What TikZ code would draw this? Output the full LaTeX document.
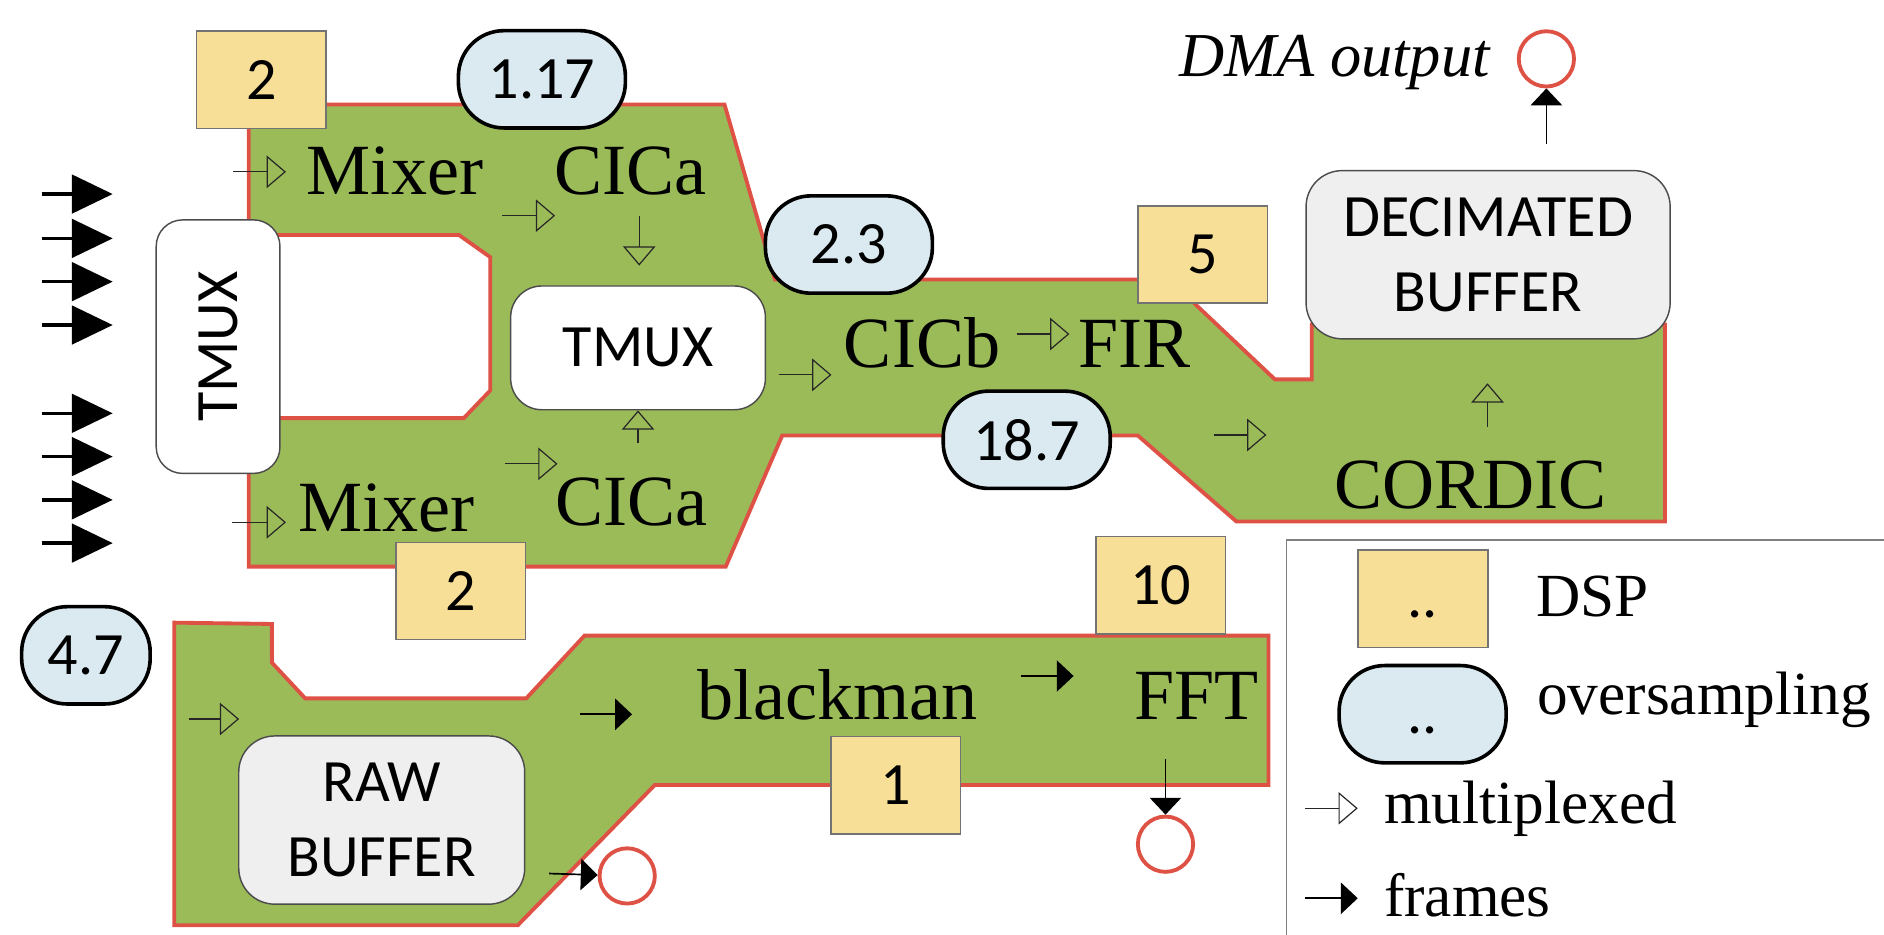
\documentclass[tikz,border=0pt]{standalone}
\usepackage{fontspec}
\setmainfont{Liberation Serif}
\newfontfamily\calib{Carlito}
\usetikzlibrary{arrows.meta}
\definecolor{zonegreen}{RGB}{155,187,89}
\definecolor{zonered}{RGB}{222,82,70}
\definecolor{dspyellow}{RGB}{248,223,152}
\definecolor{ovblue}{RGB}{218,234,240}
\definecolor{boxgray}{RGB}{239,239,239}
\newcommand{\bigserif}{\fontsize{30pt}{36pt}\selectfont}
\newcommand{\legserif}{\fontsize{25.5pt}{30pt}\selectfont}
\newcommand{\boxfont}{\calib\fontsize{25pt}{31pt}\selectfont}
\begin{document}
\begin{tikzpicture}[x=0.5pt,y=-0.5pt,
  zone/.style={fill=zonegreen, draw=zonered, line width=1.6pt, line join=miter},
  dsp/.style={draw=black!55, fill=dspyellow, line width=0.6pt, minimum width=54pt, minimum height=40.5pt, inner sep=0pt, font=\boxfont},
  ovs/.style={draw=black, fill=ovblue, line width=1.5pt, rounded corners=19pt, minimum width=69.5pt, minimum height=40.5pt, inner sep=0pt, font=\boxfont},
  wbox/.style={draw=black!70, fill=white, line width=0.6pt, rounded corners=13pt, inner sep=0pt, font=\boxfont},
  gbox/.style={wbox, fill=boxgray},
  lbl/.style={font=\bigserif, anchor=base west, inner sep=0pt},
  leg/.style={font=\legserif, anchor=base west, inner sep=0pt},
  mux/.style={draw=black!85, line width=0.5pt, -{Triangle[open, length=8pt, width=13.5pt]}},
  frm/.style={draw=black, line width=0.7pt, -{Triangle[length=7pt, width=13pt]}},
  bigarrow/.style={draw=black, line width=1.5pt, -{Triangle[length=17pt, width=16pt]}},
  outc/.style={circle, draw=zonered, line width=1.6pt, minimum size=23pt, inner sep=0pt}
]
\useasboundingbox (0,0) rectangle (1568,778);

% green zones
\draw[zone] (207,87) -- (603,87) -- (645,232.6) -- (973,232.6) -- (1061,315.7)
  -- (1091.7,315.7) -- (1091.7,270) -- (1385.7,270) -- (1385.7,434) -- (1029,434)
  -- (947,362.5) -- (651,362.5) -- (604,471.6) -- (207,471.6) -- cycle;
\draw[zone, fill=white] (220,195.6) -- (382,195.6) -- (408,214) -- (408,325) -- (386,348) -- (220,348);
\draw[zone] (145,518.2) -- (226.3,519.3) -- (226.3,551.5) -- (254,581.2) -- (438,581.2)
  -- (486.5,529) -- (1055.7,529) -- (1055.7,653.3) -- (545,653.3) -- (431,770) -- (145,770) -- cycle;

% legend frame
\draw[black!50, line width=0.8pt] (1070.7,800) -- (1070.7,449.4) -- (1600,449.4);

% DSP boxes
\node[dsp] (dspa) at (217.5,66.3) {2};
\node[dsp] (dspb) at (1001,211.8) {5};
\node[dsp] (dspc) at (383.5,491.8) {2};
\node[dsp] (dspd) at (966,487) {10};
\node[dsp] (dspe) at (745.5,653.5) {1};
\node[dsp] (dspl) at (1184.3,498.3) {\vphantom{0}..};

% oversampling ovals
\node[ovs] (ova) at (451,66) {1.17};
\node[ovs] (ovb) at (706.5,203.5) {2.3};
\node[ovs] (ovc) at (854.5,366) {18.7};
\node[ovs, minimum width=53.5pt] (ovd) at (71.5,545.4) {4.7};
\node[ovs] (ovl) at (1184,594.4) {\vphantom{0}..};

% boxes
\node[wbox, rounded corners=11pt, minimum width=51.5pt, minimum height=105.5pt] (tmuxv) at (181.5,288.5) {\rotatebox{90}{TMUX}};
\node[wbox, minimum width=106pt, minimum height=51.5pt] (tmuxc) at (531,289.5) {TMUX};
\node[gbox, rounded corners=15pt, minimum width=151.5pt, minimum height=70pt, align=center] (decim) at (1238.5,212) {DECIMATED\\BUFFER};
\node[gbox, rounded corners=15pt, minimum width=119pt, minimum height=70pt, align=center] (raw) at (317.7,682.5) {RAW\\BUFFER};

% output circles
\node[outc] (dmaout) at (1287,49) {};
\node[outc] (fftout) at (970,702.6) {};
\node[outc] (rawout) at (522,729) {};

% labels
\node[lbl] (mixa) at (255,162) {Mixer};
\node[lbl] (cica) at (461,162) {CICa};
\node[lbl] (mixb) at (248,442.5) {Mixer};
\node[lbl] (cicb2) at (462,437) {CICa};
\node[lbl] (cicb) at (702,306) {CICb};
\node[lbl] (fir) at (897,306) {FIR};
\node[lbl] (cordic) at (1110,423) {CORDIC};
\node[lbl] (blackman) at (580,598.7) {blackman};
\node[lbl] (fft) at (944,598.7) {FFT};
\node[lbl, font=\itshape\fontsize{26pt}{30pt}\selectfont] (dmalbl) at (981,64) {DMA output};

% legend labels
\node[leg] (legdsp) at (1278,513.3) {DSP};
\node[leg] (legovs) at (1279,595) {oversampling};
\node[leg] (legmux) at (1151.5,685) {multiplexed};
\node[leg] (legfrm) at (1151.5,763) {frames};

% multiplexed arrows
\coordinate (m1s) at (194,143);   \coordinate (m1e) at (238,143);
\coordinate (m2s) at (418,179.5); \coordinate (m2e) at (462,179.5);
\coordinate (m3s) at (532,180);   \coordinate (m3e) at (532,221);
\coordinate (m4s) at (531,369);   \coordinate (m4e) at (tmuxc.south);
\coordinate (m5s) at (420,386);   \coordinate (m5e) at (464,386);
\coordinate (m6s) at (648,312);   \coordinate (m6e) at (692,312);
\coordinate (m7s) at (846,278);   \coordinate (m7e) at (890,278);
\coordinate (m8s) at (1010,362);  \coordinate (m8e) at (1054,362);
\coordinate (m9s) at (1238,355);  \coordinate (m9e) at (1238,319);
\coordinate (m10s) at (193,434.7); \coordinate (m10e) at (238,434.7);
\coordinate (m11s) at (157,598.4); \coordinate (m11e) at (199,598.4);
\coordinate (mls) at (1086,672.7); \coordinate (mle) at (1130,672.7);
\foreach \a in {m1,m2,m3,m5,m6,m7,m8,m9,m10,m11,ml}
  \draw[mux] (\a s) -- (\a e);
\draw[mux] (m4s) -- (m4s |- m4e);

% frames arrows
\coordinate (f1s) at (483,594.5);  \coordinate (f1e) at (526,594.5);
\coordinate (f2s) at (850,562.6);  \coordinate (f2e) at (893.5,562.6);
\coordinate (fls) at (1086,747.6); \coordinate (fle) at (1130,747.6);
\draw[frm] (f1s) -- (f1e);
\draw[frm] (f2s) -- (f2e);
\draw[frm] (fls) -- (fle);
\coordinate (f3s) at (970,632);
\draw[frm] (f3s) -- (fftout);
\coordinate (f4s) at (457,727);
\draw[frm] (f4s) -- (rawout);
\coordinate (f5s) at (1287,120);
\draw[frm] (f5s) -- (dmaout);

% input arrows
\foreach \y [count=\i] in {161.5,198.4,234.4,270.5,344,380,416,452}{
  \coordinate (in\i s) at (34.7,\y);
  \coordinate (in\i e) at (93.8,\y);
  \draw[bigarrow] (in\i s) -- (in\i e);
}
\end{tikzpicture}
\end{document}
